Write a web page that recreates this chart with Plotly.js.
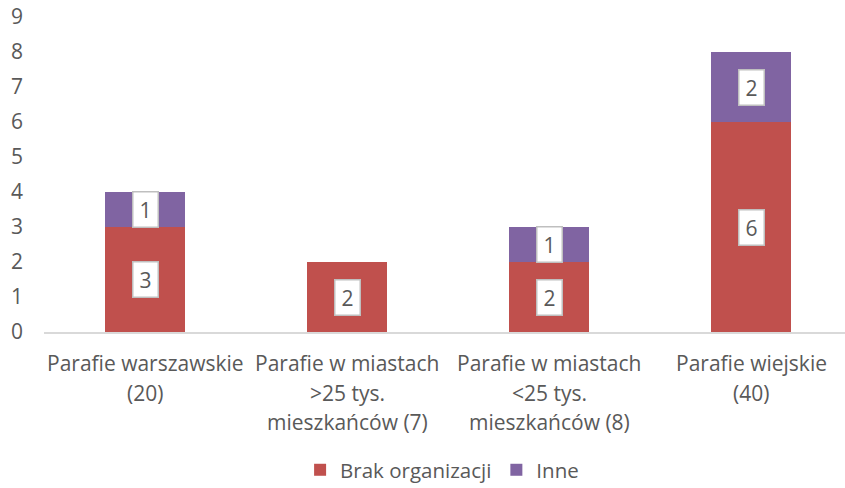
<!DOCTYPE html>
<html><head><meta charset="utf-8">
<script src="https://cdn.plot.ly/plotly-3.0.1.min.js"></script>
<style>body{margin:0;background:#fff}#chart{width:845px;height:488px}</style>
</head><body><div id="chart"></div>
<script>
const categories = ["Parafie warszawskie", "Parafie w miastach >25 tys. mieszkańców", "Parafie w miastach <25 tys. mieszkańców", "Parafie wiejskie"];
const categoryLabelLines = [
  ["Parafie warszawskie", "(20)"],
  ["Parafie w miastach", ">25 tys.", "mieszkańców (7)"],
  ["Parafie w miastach", "<25 tys.", "mieszkańców (8)"],
  ["Parafie wiejskie", "(40)"]
];
const seriesNames = ["Brak organizacji", "Inne"];
const brakValues = [3, 2, 2, 6];
const inneValues = [1, 0, 1, 2];
const yTicks = [0,1,2,3,4,5,6,7,8,9];

const FONT = "'Open Sans', sans-serif";
const TXT = "#595959";
const idx = categories.map((c,i)=>i);

const traces = [
  {type:'bar', name:seriesNames[0], x:idx, y:brakValues, marker:{color:'#C0504D'}, width:0.4, hoverinfo:'none'},
  {type:'bar', name:seriesNames[1], x:idx, y:inneValues, marker:{color:'#8064A2'}, width:0.4, hoverinfo:'none'}
];

const annotations = [];
idx.forEach(i=>{
  const segs = [[0, brakValues[i]], [brakValues[i], inneValues[i]]];
  segs.forEach(([base,v])=>{
    if (v>0) annotations.push({x:i, y:base+v/2, xref:'x', yref:'y', text:String(v), showarrow:false,
      bgcolor:'#fff', bordercolor:'#BFBFBF', borderwidth:1.5, borderpad:0, width:24, height:34,
      font:{family:FONT, size:21, color:TXT}});
  });
  categoryLabelLines[i].forEach((line,k)=>{
    annotations.push({x:i, y:0, xref:'x', yref:'y', text:line, showarrow:false, yanchor:'middle',
      yshift:-31 - 29.7*k, font:{family:FONT, size:21, color:TXT}});
  });
});

const layout = {
  width:845, height:488,
  margin:{l:44, r:0, t:17, b:156},
  barmode:'stack',
  paper_bgcolor:'#fff', plot_bgcolor:'#fff',
  showlegend:true,
  legend:{orientation:'h', x:0.497, xanchor:'center', yref:'container', y:0.037, yanchor:'middle',
    font:{family:FONT, size:20.5, color:TXT}, traceorder:'normal', itemwidth:30},
  xaxis:{range:[-0.5, 3.465], tickvals:idx, showticklabels:false, showline:true, linecolor:'#D9D9D9', linewidth:1.5, showgrid:false, zeroline:false, fixedrange:true, automargin:false},
  yaxis:{range:[0,9], tickvals:yTicks, ticktext:yTicks.map(String), showgrid:false, zeroline:false, showline:false, automargin:false,
    ticklabelstandoff:20, tickfont:{family:FONT, size:21, color:TXT}, fixedrange:true},
  annotations:annotations
};
Plotly.newPlot('chart', traces, layout, {displayModeBar:false, staticPlot:true});
</script></body></html>
